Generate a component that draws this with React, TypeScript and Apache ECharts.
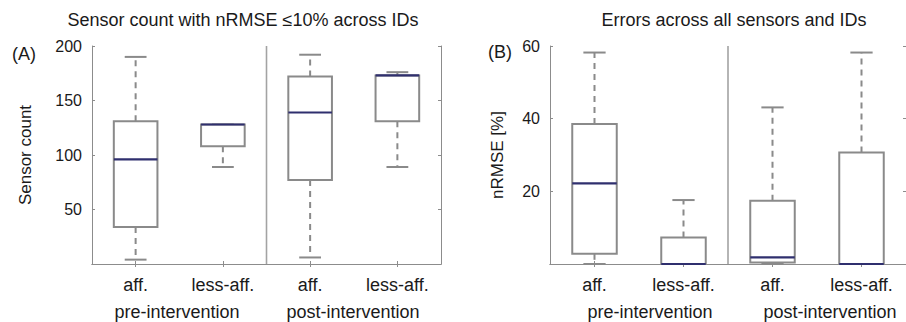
import React, { useEffect, useRef } from "react";
import * as echarts from "echarts";

// ---- data ----
const xLabels = ["aff.", "less-aff.", "aff.", "less-aff."];
const groupLabels = ["pre-intervention", "post-intervention"];
const titleA = "Sensor count with nRMSE \u226410% across IDs";
const titleB = "Errors across all sensors and IDs";
const yNameA = "Sensor count";
const yNameB = "nRMSE [%]";

// box stats: [min, q1, median, q3, max]
const countAffPre = [4, 34, 96, 131, 190];
const countLessPre = [89, 108, 128, 128, 128];
const countAffPost = [6, 77, 139, 172, 192];
const countLessPost = [89, 131, 173, 173, 176];

const errAffPre = [0, 2.8, 22.2, 38.5, 58.2];
const errLessPre = [0, 0, 0, 7.3, 17.6];
const errAffPost = [0, 0.4, 1.8, 17.4, 43.1];
const errLessPost = [0, 0, 0, 30.7, 58.2];

const countAxis = { min: 0, max: 200, interval: 50 };
const errAxis = { min: 0, max: 60, interval: 20 };

const FONT = "'Liberation Sans', Arial, Helvetica, sans-serif";
const BOX = "#8a8a8a";
const MED = "#2f2f6e";
const FRAME = "#8c8c8c";
const TXT = "#1a1a1a";

function renderBox(params: any, api: any) {
  const i = api.value(0);
  const lo = api.value(1);
  const q1 = api.value(2);
  const med = api.value(3);
  const q3 = api.value(4);
  const hi = api.value(5);
  const band = api.size([1, 0])[0];
  const p = api.coord([i, lo]);
  const x = p[0];
  const yLo = p[1];
  const yQ1 = api.coord([i, q1])[1];
  const yMed = api.coord([i, med])[1];
  const yQ3 = api.coord([i, q3])[1];
  const yHi = api.coord([i, hi])[1];
  const bw = band * 0.5;
  const cw = band * 0.25;
  const dash = [6, 5];
  const children: any[] = [];
  if (i === 1) {
    const cs = params.coordSys;
    const sx = x + band / 2;
    children.push({
      type: "line",
      shape: { x1: sx, y1: cs.y, x2: sx, y2: cs.y + cs.height },
      style: { stroke: "#a3a3a3", lineWidth: 1.6 },
    });
  }
  if (hi > q3) {
    children.push({
      type: "line",
      shape: { x1: x, y1: yQ3, x2: x, y2: yHi },
      style: { stroke: BOX, lineWidth: 2, lineDash: dash },
    });
  }
  if (q1 > lo) {
    children.push({
      type: "line",
      shape: { x1: x, y1: yQ1, x2: x, y2: yLo },
      style: { stroke: BOX, lineWidth: 2, lineDash: dash },
    });
  }
  children.push({
    type: "line",
    shape: { x1: x - cw / 2, y1: yHi, x2: x + cw / 2, y2: yHi },
    style: { stroke: BOX, lineWidth: 2 },
  });
  children.push({
    type: "line",
    shape: { x1: x - cw / 2, y1: yLo, x2: x + cw / 2, y2: yLo },
    style: { stroke: BOX, lineWidth: 2 },
  });
  children.push({
    type: "rect",
    shape: { x: x - bw / 2, y: yQ3, width: bw, height: yQ1 - yQ3 },
    style: { fill: "#ffffff", stroke: BOX, lineWidth: 2 },
  });
  children.push({
    type: "line",
    shape: { x1: x - bw / 2, y1: yMed, x2: x + bw / 2, y2: yMed },
    style: { stroke: MED, lineWidth: 2.2 },
  });
  return { type: "group", children };
}

function toRows(list: number[][]) {
  return list.map((s, i) => [i, ...s]);
}

function xAxes(gridIndex: number) {
  return [
    {
      type: "category",
      gridIndex,
      data: xLabels,
      position: "bottom",
      axisLine: { show: true, lineStyle: { color: FRAME, width: 1 } },
      axisTick: { show: true, inside: true, length: 3, alignWithLabel: true, lineStyle: { color: FRAME } },
      axisLabel: { color: TXT, fontSize: 18, fontFamily: FONT, margin: 12 },
      splitLine: { show: false },
    },
    {
      type: "category",
      gridIndex,
      data: xLabels,
      position: "top",
      axisLine: { show: true, lineStyle: { color: FRAME, width: 1 } },
      axisTick: { show: true, inside: true, length: 3, alignWithLabel: true, lineStyle: { color: FRAME } },
      axisLabel: { show: false },
      splitLine: { show: false },
    },
  ];
}

function yAxes(gridIndex: number, ax: any, name: string, nameGap: number) {
  return [
    {
      type: "value",
      gridIndex,
      position: "left",
      min: ax.min,
      max: ax.max,
      interval: ax.interval,
      name,
      nameLocation: "middle",
      nameGap,
      nameTextStyle: { color: TXT, fontSize: 17, fontFamily: FONT },
      axisLine: { show: true, lineStyle: { color: FRAME, width: 1 } },
      axisTick: { show: true, inside: true, length: 3, lineStyle: { color: FRAME } },
      axisLabel: { color: TXT, fontSize: 16, fontFamily: FONT, margin: 10, showMinLabel: false },
      splitLine: { show: false },
    },
    {
      type: "value",
      gridIndex,
      position: "right",
      min: ax.min,
      max: ax.max,
      interval: ax.interval,
      axisLine: { show: true, lineStyle: { color: FRAME, width: 1 } },
      axisTick: { show: true, inside: true, length: 3, lineStyle: { color: FRAME } },
      axisLabel: { show: false },
      splitLine: { show: false },
    },
  ];
}

export default function App() {
  const ref = useRef<HTMLDivElement>(null);
  useEffect(() => {
    if (!ref.current) return;
    const chart = echarts.init(ref.current, undefined, { renderer: "svg" });
    const titleStyle = { fontSize: 18, fontWeight: "normal" as const, color: TXT, fontFamily: FONT };
    const textStyle = (s: string, x: number, y: number, align = "center") => ({
      type: "text",
      x,
      y,
      style: {
        text: s,
        fill: TXT,
        font: `18px ${FONT}`,
        textAlign: align,
        textVerticalAlign: "middle",
      },
    });
    chart.setOption({
      animation: false,
      backgroundColor: "#ffffff",
      title: [
        { text: titleA, left: 243, top: 11, textAlign: "center", padding: 0, textStyle: titleStyle },
        { text: titleB, left: 734, top: 11, textAlign: "center", padding: 0, textStyle: titleStyle },
      ],
      grid: [
        { left: 92, top: 46, width: 349, height: 218 },
        { left: 550, top: 46, width: 365, height: 218 },
      ],
      xAxis: [...xAxes(0), ...xAxes(1)],
      yAxis: [
        ...yAxes(0, countAxis, yNameA, 58),
        ...yAxes(1, errAxis, yNameB, 44),
      ],
      series: [
        {
          type: "custom",
          xAxisIndex: 0,
          yAxisIndex: 0,
          renderItem: renderBox,
          encode: { x: 0, y: [1, 2, 3, 4, 5] },
          data: toRows([countAffPre, countLessPre, countAffPost, countLessPost]),
        },
        {
          type: "custom",
          xAxisIndex: 2,
          yAxisIndex: 2,
          renderItem: renderBox,
          encode: { x: 0, y: [1, 2, 3, 4, 5] },
          data: toRows([errAffPre, errLessPre, errAffPost, errLessPost]),
        },
      ],
      graphic: [
        textStyle("(A)", 12, 54, "left"),
        textStyle("(B)", 488, 52, "left"),
        textStyle(groupLabels[0], 177, 312),
        textStyle(groupLabels[1], 353, 312),
        textStyle(groupLabels[0], 650, 312),
        textStyle(groupLabels[1], 830, 312),
      ],
    });
    return () => chart.dispose();
  }, []);
  return (
    <div
      ref={ref}
      style={{ position: "absolute", left: 0, top: 0, width: 906, height: 322, overflow: "hidden" }}
    />
  );
}
